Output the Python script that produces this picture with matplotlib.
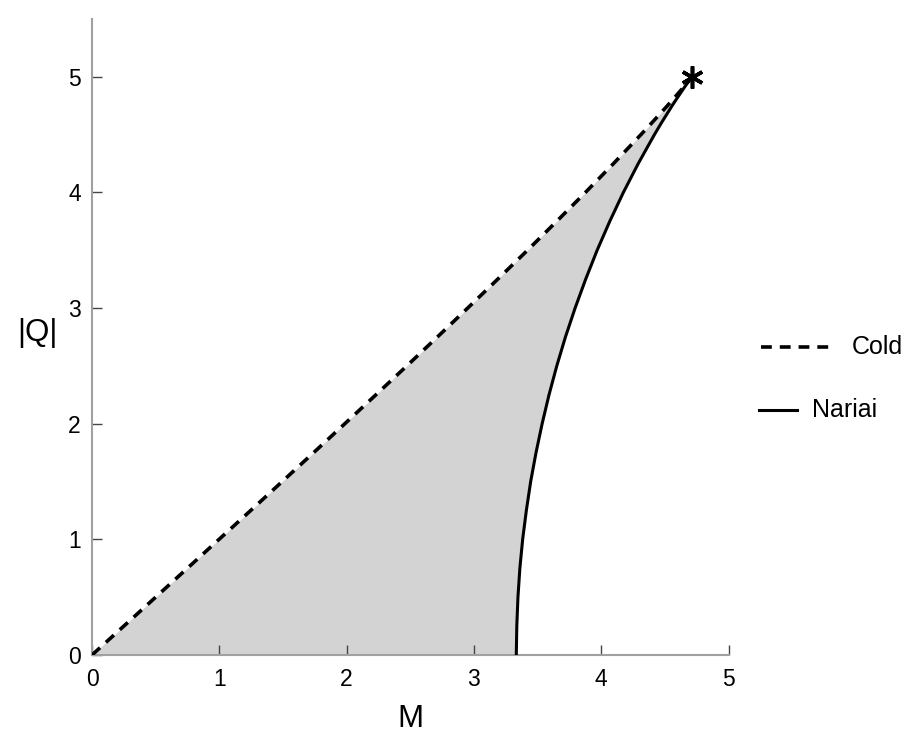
import matplotlib
matplotlib.use("Agg")
import matplotlib.pyplot as plt
from matplotlib.lines import Line2D

plt.rcParams['font.family'] = ['Liberation Sans', 'DejaVu Sans']

# |Q| samples shared by both curves
Q_vals = [0.0, 0.25, 0.5, 0.75, 1.0, 1.25, 1.5, 1.75, 2.0, 2.25, 2.5, 2.75, 3.0,
          3.25, 3.5, 3.75, 4.0, 4.25, 4.5, 4.6, 4.75, 4.8, 4.9, 4.95, 5.0]

# Cold line M values
cold_M = [0.0, 0.250, 0.500, 0.749, 0.998, 1.247, 1.494, 1.741, 1.986, 2.230, 2.473,
          2.713, 2.951, 3.187, 3.421, 3.650, 3.876, 4.097, 4.312, 4.396, 4.520, 4.560,
          4.639, 4.677, 4.714]

# Nariai curve M values
nariai_M = [3.333, 3.337, 3.346, 3.361, 3.383, 3.412, 3.446, 3.488, 3.536, 3.590, 3.651,
            3.719, 3.795, 3.878, 3.968, 4.067, 4.174, 4.291, 4.418, 4.472, 4.557, 4.587,
            4.648, 4.680, 4.714]

ultracold_M = [4.714]
ultracold_Q = [5.0]

xticks = [0, 1, 2, 3, 4, 5]
yticks = [0, 1, 2, 3, 4, 5]

fig = plt.figure(figsize=(9.22, 7.48), dpi=100)
ax = fig.add_axes([92/922, 1-655/748, (728.5-92)/922, (655-19)/748])

ax.fill_betweenx(Q_vals, cold_M, nariai_M, color='#d3d3d3', lw=0, zorder=1)
ax.plot(cold_M, Q_vals, color='black', lw=2.6, ls=(0, (3.0, 2.2)), zorder=3)
ax.plot(nariai_M, Q_vals, color='black', lw=2.2, zorder=3)
ax.plot(ultracold_M, ultracold_Q, marker=(6, 2, 0), color='black', ms=16, mew=2.6,
        ls='none', zorder=4, clip_on=False)

ax.set_xlim(0, 5)
ax.set_ylim(0, 5.5)
ax.set_xticks(xticks)
ax.set_yticks(yticks)
ax.set_xticklabels([str(t) for t in xticks])
ax.set_yticklabels([str(t) for t in yticks])
for s in ['top', 'right']:
    ax.spines[s].set_visible(False)
for s in ['left', 'bottom']:
    ax.spines[s].set_color('#a0a0a0')
    ax.spines[s].set_linewidth(1.5)
ax.tick_params(direction='in', length=7, width=1.0, color='#444444',
               labelsize=16.5, pad=8)
ax.tick_params(axis='x', pad=9)

ax.set_xlabel('M', fontsize=22.5, labelpad=10)
ax.set_ylabel('|Q|', fontsize=22.5, rotation=0, labelpad=0)
ax.yaxis.set_label_coords((37-92)/(728.5-92), (655-333)/(655-19))
ax.yaxis.label.set_horizontalalignment('center')
ax.yaxis.label.set_verticalalignment('center')

# Legend drawn manually (figure pixel coordinates)
def fx(px):
    return px / 922
def fy(py):
    return 1 - py / 748

fig.add_artist(Line2D([fx(761), fx(832)], [fy(347), fy(347)], color='black', lw=2.6,
                      ls=(0, (3.0, 2.2))))
fig.text(fx(852), fy(347), 'Cold', fontsize=18, va='center', ha='left')
fig.add_artist(Line2D([fx(759), fx(797)], [fy(410), fy(410)], color='black', lw=2.2))
fig.text(fx(812), fy(410), 'Nariai', fontsize=18, va='center', ha='left')

fig.savefig('out.png', dpi=100)
